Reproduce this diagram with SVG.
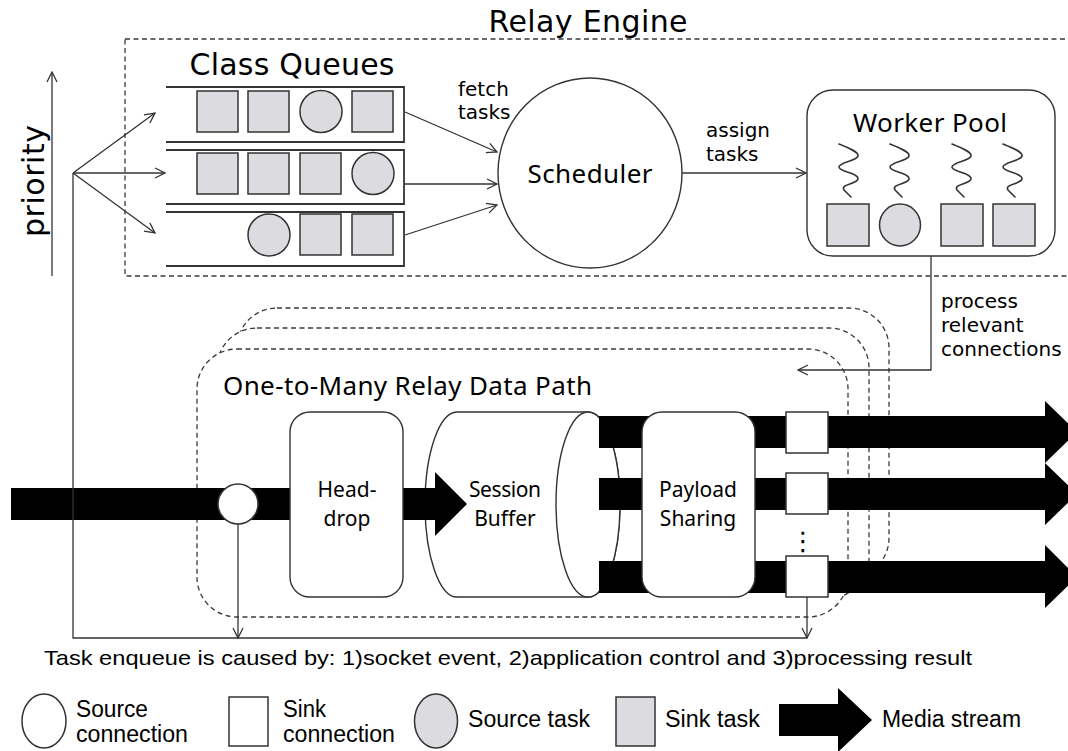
<svg xmlns="http://www.w3.org/2000/svg" width="1068" height="751" viewBox="0 0 1068 751">
  <style>
    .dash { fill: none; stroke: #3a3a3a; stroke-width: 1.3; stroke-dasharray: 5 3.5; }
    .dashbox { fill: #fff; stroke: #3a3a3a; stroke-width: 1.3; stroke-dasharray: 5 3.5; }
    .line { fill: none; stroke: #333; stroke-width: 1.3; }
    .queue { fill: none; stroke: #333; stroke-width: 1.8; }
    .task { fill: #dcdce0; stroke: #333; stroke-width: 1.5; }
    .conn { fill: #fff; stroke: #333; stroke-width: 1.5; }
    .box { fill: #fff; stroke: #333; stroke-width: 1.4; }
    .stream { fill: #000; }
    .squig { fill: none; stroke: #333; stroke-width: 1.6; stroke-linecap: round; stroke-linejoin: round; }
    .big { font-family: "DejaVu Sans", Verdana, sans-serif; font-size: 30px; fill: #000; }
    .title { font-family: "Noto Sans", "Open Sans", sans-serif; font-size: 26px; fill: #000; }
    .lbl { font-family: "DejaVu Sans", Verdana, sans-serif; font-size: 20px; fill: #000; }
    .inner { font-family: "Noto Sans", "Open Sans", sans-serif; font-size: 21px; fill: #000; text-anchor: middle; }
    .note { font-family: "Liberation Sans", Arial, sans-serif; font-size: 21px; fill: #000; }
    .leg { font-family: "Liberation Sans", Arial, sans-serif; font-size: 23px; fill: #000; }
  </style>
  <defs>
    <marker id="open" viewBox="0 0 12 12" refX="11" refY="6" markerWidth="12" markerHeight="12" markerUnits="userSpaceOnUse" orient="auto">
      <path d="M1,1 L11,6 L1,11" fill="none" stroke="#333" stroke-width="1.3"/>
    </marker>
    <!-- worker thread squiggle -->
    <path id="squiggle" d="M0,0 C10,4 20,8 19,12 C18,17 0,18 0,23 C0,28 20,29 19,35 C18,40 1,40 5,46 L12,53"/>
  </defs>

  <!-- relay engine frame -->
  <g id="relay-engine">
    <rect class="dash" x="125" y="39" width="960" height="237"/>
    <text class="big" x="588" y="32" text-anchor="middle" textLength="199">Relay Engine</text>
  </g>

  <!-- priority axis -->
  <g id="priority">
    <line class="line" x1="52" y1="276" x2="52" y2="72" marker-end="url(#open)"/>
    <text class="big" x="44" y="181" text-anchor="middle" transform="rotate(-90 44 181)" textLength="112">priority</text>
  </g>

  <!-- class queues -->
  <g id="class-queues">
    <text class="big" x="292" y="75" text-anchor="middle" textLength="205">Class Queues</text>
    <path class="queue" d="M166,87 H404 V142 H166"/>
    <path class="queue" d="M166,150 H404 V204 H166"/>
    <path class="queue" d="M166,212 H404 V266 H166"/>
    <rect class="task" x="197" y="91" width="41" height="41"/>
    <rect class="task" x="248" y="91" width="41" height="41"/>
    <circle class="task" cx="321" cy="111.5" r="21"/>
    <rect class="task" x="352" y="91" width="41" height="41"/>
    <rect class="task" x="197" y="153" width="41" height="41"/>
    <rect class="task" x="248" y="153" width="41" height="41"/>
    <rect class="task" x="300" y="153" width="41" height="41"/>
    <circle class="task" cx="373" cy="173.5" r="21"/>
    <circle class="task" cx="269" cy="235" r="21"/>
    <rect class="task" x="300" y="214" width="41" height="41"/>
    <rect class="task" x="352" y="214" width="41" height="41"/>
  </g>

  <!-- scheduler -->
  <g id="scheduler">
    <ellipse class="box" cx="590" cy="173" rx="92" ry="95"/>
    <text class="title" x="590" y="183" text-anchor="middle" textLength="125">Scheduler</text>
  </g>

  <!-- worker pool -->
  <g id="worker-pool">
    <rect class="box" x="807" y="90" width="248" height="166" rx="26"/>
    <text class="title" x="930" y="132" text-anchor="middle" textLength="154">Worker Pool</text>
    <use href="#squiggle" class="squig" x="839" y="144"/>
    <use href="#squiggle" class="squig" x="890" y="144"/>
    <use href="#squiggle" class="squig" x="952" y="144"/>
    <use href="#squiggle" class="squig" x="1003" y="144"/>
    <rect class="task" x="827" y="204" width="42" height="42"/>
    <ellipse class="task" cx="900" cy="225" rx="20.5" ry="21"/>
    <rect class="task" x="941" y="204" width="42" height="42"/>
    <rect class="task" x="993" y="204" width="42" height="42"/>
  </g>

  <!-- data path session frames (stacked) -->
  <g id="data-path">
    <rect class="dashbox" x="237" y="308" width="652" height="270" rx="40"/>
    <rect class="dashbox" x="217" y="328" width="652" height="270" rx="40"/>
    <rect class="dashbox" x="197" y="349" width="651" height="268" rx="40"/>
    <text class="title" x="223" y="395" textLength="369">One-to-Many Relay Data Path</text>
  </g>

  <!-- session buffer cylinder -->
  <g id="session-buffer">
    <path class="box" d="M457,412 H588 A32,92.5 0 0 1 588,597 H457 A32,92.5 0 0 1 457,412 Z"/>
    <ellipse class="box" cx="588" cy="504.5" rx="32" ry="92.5"/>
    <text class="inner" x="505" y="497" textLength="72">Session</text>
    <text class="inner" x="505" y="526">Buffer</text>
  </g>

  <!-- media streams -->
  <g id="streams">
    <rect class="stream" x="11" y="488" width="280" height="32"/>
    <path class="stream" d="M402,488 H435 V472 L467,504 L435,536 V520 H402 Z"/>
    <path class="stream" d="M599,416 H1045 V401 L1077,432 L1045,463 V448 H599 Z"/>
    <path class="stream" d="M599,478 H1045 V463 L1077,494 L1045,525 V510 H599 Z"/>
    <path class="stream" d="M599,561 H1045 V545 L1077,577 L1045,608 V593 H599 Z"/>
  </g>

  <!-- head-drop -->
  <g id="head-drop">
    <rect class="box" x="290" y="412" width="113" height="185" rx="20"/>
    <text class="inner" x="347" y="497">Head-</text>
    <text class="inner" x="347" y="526">drop</text>
  </g>

  <!-- payload sharing -->
  <g id="payload-sharing">
    <rect class="box" x="642" y="412" width="113" height="185" rx="20"/>
    <text class="inner" x="698" y="497">Payload</text>
    <text class="inner" x="698" y="526">Sharing</text>
  </g>

  <!-- source and sink connections -->
  <g id="source-connection">
    <circle class="conn" cx="238" cy="504" r="20"/>
  </g>
  <g id="sink-connections">
    <rect class="conn" x="786" y="412" width="42" height="41"/>
    <rect class="conn" x="786" y="473" width="42" height="41"/>
    <rect class="conn" x="786" y="556" width="42" height="41"/>
    <text x="803" y="550" font-family="DejaVu Sans, sans-serif" font-size="26" text-anchor="middle" fill="#000">⋮</text>
  </g>

  <!-- connectors -->
  <g id="connectors">
    <path class="line" d="M73,173 L155,113" marker-end="url(#open)"/>
    <path class="line" d="M73,173 L165,173" marker-end="url(#open)"/>
    <path class="line" d="M73,173 L155,233" marker-end="url(#open)"/>
    <path class="line" d="M73,173 V638 H807"/>
    <path class="line" d="M405,112 L497,152" marker-end="url(#open)"/>
    <path class="line" d="M405,184 L497,184" marker-end="url(#open)"/>
    <path class="line" d="M405,235 L497,205" marker-end="url(#open)"/>
    <path class="line" d="M682,173 L806,173" marker-end="url(#open)"/>
    <path class="line" d="M931,256 V370 H798" marker-end="url(#open)"/>
    <path class="line" d="M238,524 V638" marker-end="url(#open)"/>
    <path class="line" d="M807,597 V638" marker-end="url(#open)"/>
    <text class="lbl" x="458" y="96">fetch</text>
    <text class="lbl" x="458" y="119">tasks</text>
    <text class="lbl" x="706" y="137">assign</text>
    <text class="lbl" x="706" y="161">tasks</text>
    <text class="lbl" x="941" y="308">process</text>
    <text class="lbl" x="941" y="332">relevant</text>
    <text class="lbl" x="941" y="356">connections</text>
  </g>

  <text class="note" x="44" y="665" textLength="928" lengthAdjust="spacingAndGlyphs">Task enqueue is caused by: 1)socket event, 2)application control and 3)processing result</text>

  <!-- legend -->
  <g id="legend">
    <ellipse class="conn" cx="44" cy="721" rx="22" ry="27"/>
    <text class="leg" x="76" y="717" textLength="72" lengthAdjust="spacingAndGlyphs">Source</text>
    <text class="leg" x="76" y="742" textLength="112" lengthAdjust="spacingAndGlyphs">connection</text>
    <rect class="conn" x="229" y="697" width="39" height="49"/>
    <text class="leg" x="283" y="717" textLength="43" lengthAdjust="spacingAndGlyphs">Sink</text>
    <text class="leg" x="283" y="742" textLength="112" lengthAdjust="spacingAndGlyphs">connection</text>
    <ellipse class="task" cx="436" cy="721" rx="21.5" ry="27"/>
    <text class="leg" x="468" y="727" textLength="122" lengthAdjust="spacingAndGlyphs">Source task</text>
    <rect class="task" x="616" y="697" width="39" height="49"/>
    <text class="leg" x="665" y="727" textLength="95" lengthAdjust="spacingAndGlyphs">Sink task</text>
    <path class="stream" d="M779,704 H838 V688 L872,720 L838,752 V736 H779 Z"/>
    <text class="leg" x="882" y="727" textLength="139" lengthAdjust="spacingAndGlyphs">Media stream</text>
  </g>
</svg>
